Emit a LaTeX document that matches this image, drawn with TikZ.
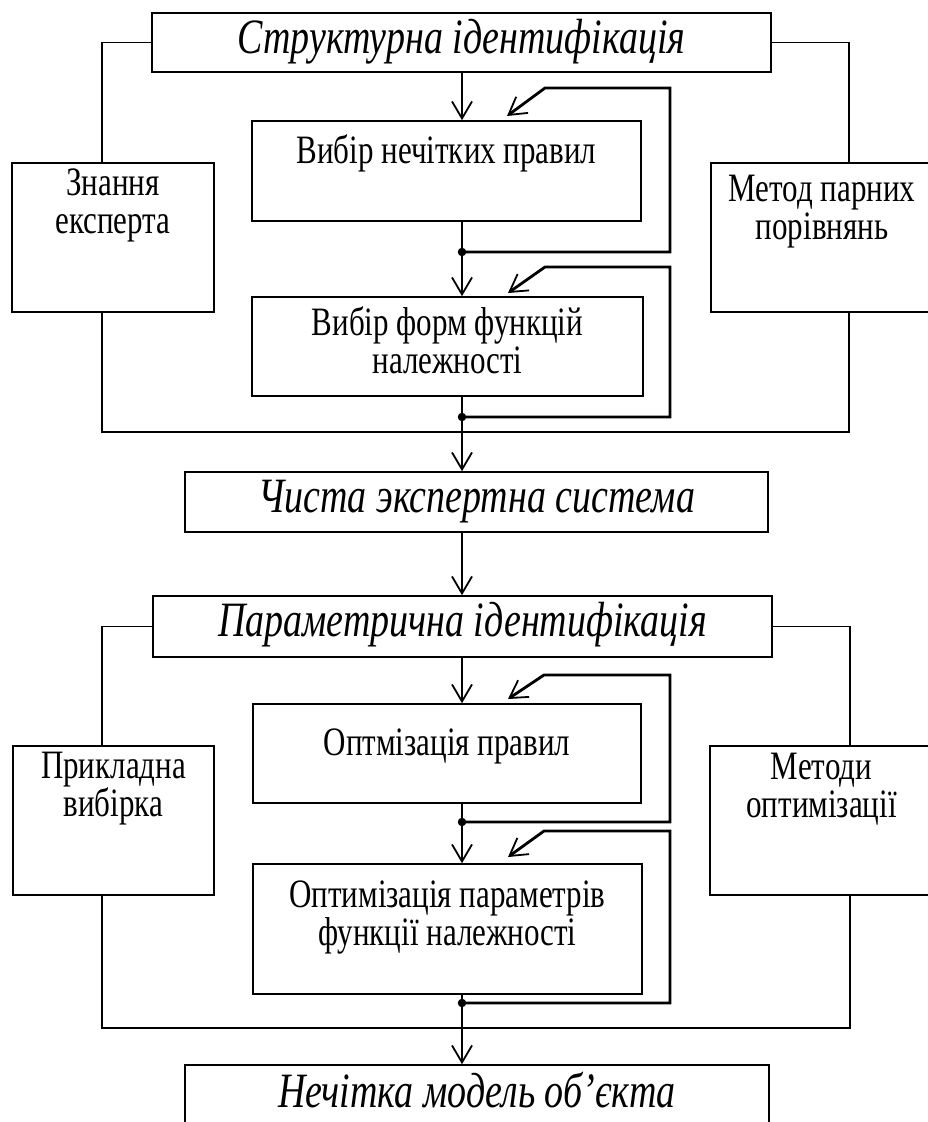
\documentclass[tikz,border=0pt]{standalone}
\usepackage{fontspec}
\usepackage{graphicx}
\setmainfont{Liberation Serif}
\usetikzlibrary{arrows.meta}
% glyphs are set slightly taller than their natural proportions
\newcommand\vstretch[1]{\scalebox{1}[1.3]{#1}}
\begin{document}
\begin{tikzpicture}[x=1pt,y=-1pt,
  box/.style={draw, line width=1.6pt, rectangle, inner sep=0pt},
  lbl/.style={font=\fontsize{31}{38}\selectfont, align=center, inner sep=0pt},
  ttl/.style={font=\fontsize{38}{44}\selectfont\itshape, inner sep=0pt},
  headtip/.style={-{Straight Barb[length=17pt,width=20pt,line width=1.8pt]}},
  flow/.style={line width=1.8pt},
  sidelink/.style={line width=1.4pt},
  fback/.style={line width=2.8pt, line join=miter},
  jdot/.style={circle, fill, inner sep=0pt, minimum size=8.5pt}
]
\useasboundingbox (0,0) rectangle (928,1122);

% ---------- structural identification ----------
\node[box, minimum width=619pt, minimum height=59pt] (S) at (461.5,42.5) {};
\node[ttl] (St) at (461.5,42) {\vstretch{Структурна ідентифікація}};

\node[box, minimum width=202pt, minimum height=149pt] (K) at (113,237.5) {};
\node[lbl] (Kt) at (113,205) {\vstretch{Знання}\\\vstretch{експерта}};

\node[box, minimum width=222pt, minimum height=149pt] (M) at (822,237.5) {};
\node[lbl] (Mt) at (822,212) {\vstretch{Метод парних}\\\vstretch{порівнянь}};

\node[box, minimum width=389pt, minimum height=100pt] (R1) at (446.5,171) {};
\node[lbl] (R1t) at (446.5,153) {\vstretch{Вибір нечітких правил}};

\node[box, minimum width=391pt, minimum height=99pt] (R2) at (447.5,346.5) {};
\node[lbl] (R2t) at (447.5,340) {\vstretch{Вибір форм функцій}\\\vstretch{належності}};

\node[box, minimum width=583pt, minimum height=60pt] (C) at (476.5,502) {};
\node[ttl] (Ct) at (476.5,502) {\vstretch{Чиста экспертна система}};

% side links of the first stage
\draw[sidelink] (S.west) -| ([xshift=-11pt]K.north);
\draw[sidelink] (S.east) -| ([xshift=27pt]M.north);
\coordinate (b1) at (462,432);
\draw[sidelink] ([xshift=-11pt]K.south) |- (b1) -| ([xshift=27pt]M.south);

% main flow of the first stage
\coordinate (d1) at (462,252);
\coordinate (d2) at (462,417);
\draw[flow,headtip] (S.south -| d1) -- (R1.north -| d1);
\draw[flow] (R1.south -| d1) -- (d1);
\draw[flow,headtip] (d1) -- (R2.north -| d1);
\draw[flow] (R2.south -| d1) -- (d2);
\draw[flow,headtip] (d2) -- (C.north -| d1);

% feedback loops of the first stage
\coordinate (f1) at (670,88);
\coordinate (g1) at (545,88);
\coordinate (t1) at (507,116);
\draw[fback,headtip] (d1) -| (f1) -- (g1) -- (t1);
\coordinate (f2) at (670,267);
\coordinate (g2) at (545,267);
\coordinate (t2) at (508,293);
\draw[fback,headtip] (d2) -| (f2) -- (g2) -- (t2);
\node[jdot] (j1) at (d1) {};
\node[jdot] (j2) at (d2) {};

% ---------- parametric identification ----------
\node[box, minimum width=619pt, minimum height=61pt] (P) at (462.5,626.5) {};
\node[ttl] (Pt) at (462.5,625) {\vstretch{Параметрична ідентифікація}};

\node[box, minimum width=201pt, minimum height=149pt] (A) at (113.5,820.5) {};
\node[lbl] (At) at (113.5,789) {\vstretch{Прикладна}\\\vstretch{вибірка}};

\node[box, minimum width=223pt, minimum height=149pt] (MO) at (821.5,820.5) {};
\node[lbl] (MOt) at (821.5,789) {\vstretch{Методи}\\\vstretch{оптимізації}};

\node[box, minimum width=388pt, minimum height=99pt] (O1) at (447,753.5) {};
\node[lbl] (O1t) at (447,746) {\vstretch{Оптмізація правил}};

\node[box, minimum width=389pt, minimum height=130pt] (O2) at (447.5,929) {};
\node[lbl] (O2t) at (447.5,917) {\vstretch{Оптимізація параметрів}\\\vstretch{функції належності}};

\node[box, minimum width=584pt, minimum height=75pt] (N) at (477,1102.5) {};
\node[ttl] (Nt) at (477,1090) {\vstretch{Нечітка модель об’єкта}};

\draw[flow,headtip] (C.south -| d1) -- (P.north -| d1);

% side links of the second stage
\draw[sidelink] (P.west) -| ([xshift=-11.5pt]A.north);
\draw[sidelink] (P.east) -| ([xshift=28.5pt]MO.north);
\coordinate (b2) at (462,1028);
\draw[sidelink] ([xshift=-11.5pt]A.south) |- (b2) -| ([xshift=28.5pt]MO.south);

% main flow of the second stage
\coordinate (d3) at (462,822);
\coordinate (d4) at (462,1003);
\draw[flow,headtip] (P.south -| d3) -- (O1.north -| d3);
\draw[flow] (O1.south -| d3) -- (d3);
\draw[flow,headtip] (d3) -- (O2.north -| d3);
\draw[flow] (O2.south -| d3) -- (d4);
\draw[flow,headtip] (d4) -- (N.north -| d3);

% feedback loops of the second stage
\coordinate (f3) at (670,675);
\coordinate (g3) at (544,675);
\coordinate (t3) at (508,699);
\draw[fback,headtip] (d3) -| (f3) -- (g3) -- (t3);
\coordinate (f4) at (670,831);
\coordinate (g4) at (544,831);
\coordinate (t4) at (508,857);
\draw[fback,headtip] (d4) -| (f4) -- (g4) -- (t4);
\node[jdot] (j3) at (d3) {};
\node[jdot] (j4) at (d4) {};
\end{tikzpicture}
\end{document}
